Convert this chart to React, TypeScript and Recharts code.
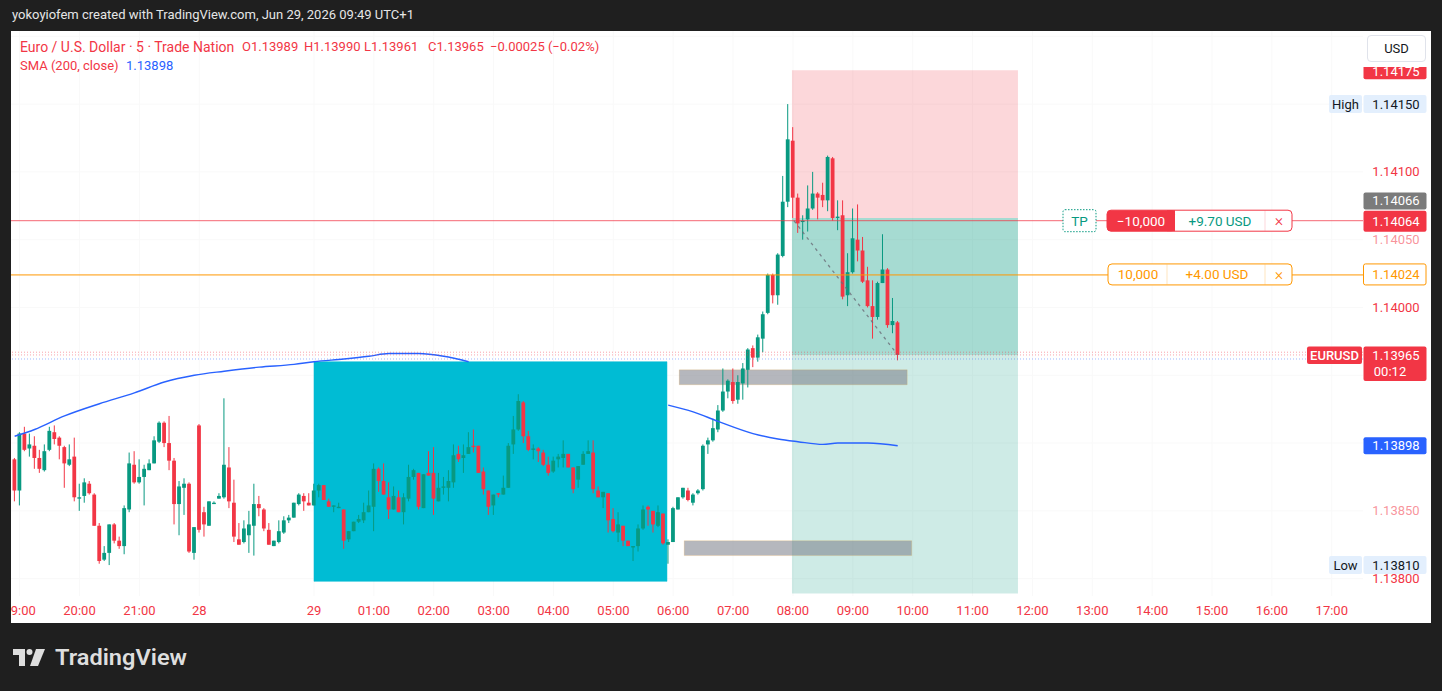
import React from "react";
import {
  ComposedChart,
  Bar,
  Line,
  XAxis,
  YAxis,
  ReferenceArea,
  ReferenceLine,
  CartesianGrid,
} from "recharts";

const FONT = "Roboto, 'Noto Sans', Arial, sans-serif";
const UP = "#089981";
const DOWN = "#f23645";
const ORANGE = "#ff9800";
const BLUE = "#2962ff";

// ---- candle data (5-minute EURUSD), first bar index relative to 29 Jun 00:00 ----
const FIRST_INDEX = -60;

const opens = [
  1.13888, 1.13865, 1.13907, 1.13896, 1.13898, 1.13889, 1.1388, 1.13895, 1.13908, 1.13904,
  1.13897, 1.13884, 1.1389, 1.13859, 1.13861, 1.1387, 1.13862, 1.13839, 1.13814, 1.13819,
  1.1384, 1.13828, 1.13824, 1.13851, 1.13884, 1.13871, 1.13875, 1.1388, 1.13885, 1.13901,
  1.13915, 1.139, 1.13887, 1.13855, 1.13867, 1.1387, 1.13819, 1.13913, 1.13849, 1.13839,
  1.13855, 1.13859, 1.1386, 1.13882, 1.13856, 1.13829, 1.13827, 1.13832, 1.13839, 1.13855,
  1.13851, 1.13836, 1.13824, 1.13827, 1.13834, 1.13843, 1.13845, 1.13855, 1.13861, 1.13856,
  1.13854, 1.13865, 1.13869, 1.13857, 1.13853, 1.13852, 1.13851, 1.13829, 1.13835, 1.13842,
  1.13843, 1.13849, 1.13853, 1.13881, 1.13872, 1.1386, 1.13851, 1.1386, 1.13849, 1.13859,
  1.13875, 1.13878, 1.13852, 1.13878, 1.13878, 1.13857, 1.13867, 1.13867, 1.13871, 1.13892,
  1.13889, 1.13892, 1.13898, 1.13898, 1.13879, 1.13865, 1.13854, 1.13863, 1.13862, 1.13867,
  1.13899, 1.1391, 1.1393, 1.13905, 1.13895, 1.13896, 1.13893, 1.13884, 1.13879, 1.13888,
  1.13889, 1.13892, 1.13882, 1.13873, 1.13884, 1.13892, 1.13893, 1.13865, 1.1386, 1.13863,
  1.13844, 1.13834, 1.13839, 1.13828, 1.13823, 1.13824, 1.13837, 1.13853, 1.1385, 1.13839,
  1.13848, 1.13825, 1.13827, 1.13851, 1.1386, 1.13865, 1.13856, 1.13863, 1.13866, 1.13899,
  1.13902, 1.1391, 1.13924, 1.13938, 1.13945, 1.13932, 1.13944, 1.13954, 1.1397, 1.13963,
  1.13977, 1.13996, 1.14024, 1.14009, 1.14038, 1.14078, 1.14123, 1.14081, 1.14063, 1.14065,
  1.14073, 1.14084, 1.14083, 1.14079, 1.1411, 1.14066, 1.14068, 1.14009, 1.14026, 1.1405,
  1.14042, 1.1402, 1.14001, 1.13993, 1.14018, 1.14028, 1.13987, 1.13989,
];

const highs = [
  1.13889, 1.13908, 1.13912, 1.13907, 1.13905, 1.13895, 1.13899, 1.13912, 1.13913, 1.13905,
  1.13898, 1.13899, 1.13904, 1.1387, 1.13874, 1.13872, 1.13863, 1.13841, 1.13824, 1.1384,
  1.13841, 1.13831, 1.13854, 1.13893, 1.13894, 1.13888, 1.13884, 1.13888, 1.13905, 1.13916,
  1.13916, 1.1392, 1.13889, 1.13872, 1.13874, 1.13871, 1.13838, 1.13914, 1.13853, 1.13857,
  1.13857, 1.13863, 1.13933, 1.13897, 1.13873, 1.13841, 1.13843, 1.1385, 1.1387, 1.13861,
  1.13852, 1.13841, 1.13828, 1.13843, 1.13846, 1.13847, 1.13856, 1.13863, 1.13863, 1.13863,
  1.1387, 1.1387, 1.13869, 1.13859, 1.13854, 1.13856, 1.13851, 1.13835, 1.13842, 1.13847,
  1.13856, 1.13865, 1.13885, 1.13882, 1.13885, 1.13871, 1.13868, 1.13865, 1.13863, 1.13884,
  1.13881, 1.13878, 1.13877, 1.13894, 1.13897, 1.13878, 1.13875, 1.1388, 1.13899, 1.13898,
  1.13899, 1.13908, 1.1391, 1.13898, 1.13882, 1.13865, 1.13862, 1.13863, 1.13876, 1.139,
  1.1392, 1.13936, 1.13931, 1.13909, 1.13899, 1.13897, 1.13895, 1.1389, 1.1389, 1.13892,
  1.13902, 1.13892, 1.13882, 1.13883, 1.13894, 1.13902, 1.13902, 1.13868, 1.13864, 1.13863,
  1.13852, 1.13849, 1.13839, 1.13828, 1.13824, 1.1384, 1.13854, 1.13854, 1.1385, 1.13854,
  1.13848, 1.13829, 1.13853, 1.1386, 1.13867, 1.13867, 1.13863, 1.13866, 1.13899, 1.13904,
  1.13918, 1.13928, 1.13955, 1.13947, 1.13955, 1.1395, 1.13959, 1.1397, 1.13972, 1.1398,
  1.13997, 1.14025, 1.14025, 1.1404, 1.14097, 1.1415, 1.14133, 1.14084, 1.14068, 1.1409,
  1.141, 1.14085, 1.14092, 1.14112, 1.14111, 1.14079, 1.14079, 1.1404, 1.14073, 1.14076,
  1.14052, 1.1403, 1.1402, 1.14019, 1.14054, 1.14029, 1.14007, 1.1399,
];

const lows = [
  1.13857, 1.13854, 1.13894, 1.1389, 1.13881, 1.13878, 1.13879, 1.13894, 1.13899, 1.13888,
  1.13867, 1.13883, 1.13857, 1.1385, 1.13856, 1.13862, 1.13839, 1.13811, 1.13813, 1.1381,
  1.13826, 1.13822, 1.13818, 1.13849, 1.1387, 1.1387, 1.13854, 1.1388, 1.13885, 1.139,
  1.13897, 1.1388, 1.1384, 1.13832, 1.13847, 1.13819, 1.13814, 1.13834, 1.13831, 1.13839,
  1.13855, 1.13859, 1.13859, 1.13852, 1.13827, 1.13825, 1.13826, 1.13819, 1.13817, 1.13846,
  1.13835, 1.13825, 1.13824, 1.13826, 1.13833, 1.13841, 1.13845, 1.13854, 1.1385, 1.13854,
  1.13854, 1.1386, 1.13858, 1.13853, 1.13849, 1.13852, 1.13822, 1.13827, 1.13835, 1.13841,
  1.13841, 1.13849, 1.13835, 1.13864, 1.13862, 1.13844, 1.13851, 1.13849, 1.1384, 1.13857,
  1.13873, 1.13851, 1.13852, 1.13876, 1.13847, 1.13857, 1.13862, 1.13857, 1.13867, 1.13886,
  1.13878, 1.13892, 1.13893, 1.13878, 1.13862, 1.13847, 1.13847, 1.1386, 1.13862, 1.13867,
  1.13892, 1.13909, 1.139, 1.13894, 1.13888, 1.13886, 1.13883, 1.13876, 1.13878, 1.13882,
  1.13882, 1.13882, 1.13863, 1.13867, 1.13884, 1.13892, 1.13863, 1.1386, 1.13852, 1.13834,
  1.13834, 1.13827, 1.13824, 1.13824, 1.13813, 1.1382, 1.13836, 1.13839, 1.13834, 1.13838,
  1.13825, 1.13811, 1.13827, 1.13851, 1.13859, 1.13857, 1.13854, 1.13862, 1.13865, 1.13892,
  1.13901, 1.13908, 1.13923, 1.13933, 1.13929, 1.13929, 1.13932, 1.13941, 1.13956, 1.1396,
  1.13967, 1.13995, 1.14003, 1.14002, 1.14037, 1.14074, 1.14066, 1.14055, 1.1405, 1.14056,
  1.14072, 1.14065, 1.14074, 1.14071, 1.14064, 1.14057, 1.14006, 1.14001, 1.14025, 1.14034,
  1.14018, 1.14, 1.13977, 1.13991, 1.14018, 1.13985, 1.13981, 1.13961,
];

const closes = [
  1.13865, 1.13907, 1.13895, 1.13899, 1.13889, 1.13881, 1.13894, 1.13909, 1.13903, 1.13898,
  1.13885, 1.13888, 1.1386, 1.1386, 1.13871, 1.13863, 1.13839, 1.13813, 1.13819, 1.1384,
  1.13828, 1.13824, 1.13852, 1.13885, 1.13871, 1.13875, 1.13881, 1.13885, 1.13902, 1.13915,
  1.139, 1.13887, 1.13855, 1.13868, 1.1387, 1.1382, 1.13838, 1.13836, 1.1384, 1.13857,
  1.13856, 1.13861, 1.13884, 1.13857, 1.13831, 1.13825, 1.13837, 1.1384, 1.13855, 1.13852,
  1.13837, 1.13825, 1.13828, 1.13835, 1.13843, 1.13845, 1.13856, 1.13862, 1.13857, 1.13854,
  1.13865, 1.13869, 1.13858, 1.13853, 1.13854, 1.13853, 1.13828, 1.13835, 1.13842, 1.13844,
  1.13849, 1.13854, 1.13881, 1.13872, 1.13862, 1.13851, 1.13861, 1.13849, 1.1386, 1.13875,
  1.1388, 1.13853, 1.13877, 1.13876, 1.13859, 1.13867, 1.13868, 1.13872, 1.13891, 1.13888,
  1.13891, 1.13897, 1.13897, 1.13878, 1.13866, 1.13853, 1.13862, 1.13862, 1.13867, 1.13898,
  1.1391, 1.13931, 1.13905, 1.13895, 1.13896, 1.13894, 1.13884, 1.13878, 1.13887, 1.1389,
  1.13892, 1.13882, 1.13866, 1.13883, 1.13892, 1.13894, 1.13866, 1.1386, 1.13864, 1.13843,
  1.13835, 1.1384, 1.13828, 1.13824, 1.13824, 1.13837, 1.13851, 1.13851, 1.1384, 1.13849,
  1.13826, 1.13827, 1.13852, 1.1386, 1.13867, 1.13858, 1.13862, 1.13865, 1.13898, 1.13902,
  1.13911, 1.13924, 1.13938, 1.13946, 1.13931, 1.13945, 1.13955, 1.13969, 1.13963, 1.13978,
  1.13995, 1.14024, 1.14009, 1.14039, 1.14078, 1.14124, 1.14081, 1.14062, 1.14064, 1.14073,
  1.14084, 1.14081, 1.14079, 1.14111, 1.14066, 1.14067, 1.14008, 1.14026, 1.14051, 1.14042,
  1.14019, 1.14001, 1.13993, 1.14018, 1.14028, 1.13987, 1.1399, 1.13965,
];

// ---- SMA(200) readings: visible part left of the box and right of it ----
const smaLeftIdx = [-60, -56, -50, -43, -36, -30, -24, -18, -11, -4, 0, 6, 11, 15, 21, 26, 31];
const smaLeftVal = [
  1.13905, 1.1391, 1.1392, 1.13929, 1.13937, 1.13945, 1.1395, 1.13953, 1.13956, 1.13958,
  1.1396, 1.13962, 1.13964, 1.13966, 1.13966, 1.13964, 1.1396,
];
const smaRightIdx = [71, 76, 81, 88, 93, 97, 102, 105, 111, 117];
const smaRightVal = [1.13928, 1.13923, 1.13916, 1.13907, 1.13903, 1.13901, 1.13899, 1.139, 1.139, 1.13898];

// ---- time axis ----
const timeTickIdx = [-59, -47, -35, -23, 0, 12, 24, 36, 48, 60, 72, 84, 96, 108, 120, 132, 144, 156, 168, 180, 192, 204];
const timeTickLabels = [
  "19:00", "20:00", "21:00", "28", "29", "01:00", "02:00", "03:00", "04:00", "05:00", "06:00",
  "07:00", "08:00", "09:00", "10:00", "11:00", "12:00", "13:00", "14:00", "15:00", "16:00", "17:00",
];

// ---- price levels ----
const gridPrices = [1.138, 1.1385, 1.139, 1.1395, 1.14, 1.1405, 1.141, 1.1415, 1.142];
const plainAxisPrices = [1.138, 1.14, 1.141];
const fadedAxisPrices = [1.1385, 1.1405];
const stopLevel = 1.14175;
const entryLevel = 1.14066;
const targetLevel = 1.13789;
const tpLevel = 1.14064;
const limitLevel = 1.14024;
const askLevel = 1.13967;
const bidLevel = 1.13962;
const tpTexts = ["TP", "\u221210,000", "+9.70 USD"];
const limitTexts = ["10,000", "+4.00 USD"];

// drawings (time index / price)
const rangeBox = { x1: 0, x2: 70.75, y1: 1.13798, y2: 1.1396 };
const position = { x1: 95.8, x2: 141.1 };
const greyUpper = { x1: 73.2, x2: 118.9, y1: 1.13943, y2: 1.13954 };
const greyLower = { x1: 74.2, x2: 119.8, y1: 1.13817, y2: 1.13828 };
const diagStart = { x: 96.2, y: 1.14064 };

const X_DOMAIN: [number, number] = [-60.73, 210.26];
const Y_DOMAIN: [number, number] = [1.137872, 1.142039];

const rows = opens.map((o, k) => ({
  i: FIRST_INDEX + k,
  open: o,
  high: highs[k],
  low: lows[k],
  close: closes[k],
  smaA: null as number | null,
  smaB: null as number | null,
}));
smaLeftIdx.forEach((idx, j) => {
  const r = rows[idx - FIRST_INDEX];
  if (r) r.smaA = smaLeftVal[j];
});
smaRightIdx.forEach((idx, j) => {
  const r = rows[idx - FIRST_INDEX];
  if (r) r.smaB = smaRightVal[j];
});

const last = rows.length - 1;
const lastClose = closes[last];
const prevClose = closes[last - 1];
const change = lastClose - prevClose;
const changePct = (change / prevClose) * 100;
const sessionHigh = Math.max(...highs);
const sessionLow = Math.min(...lows);
const smaLast = smaRightVal[smaRightVal.length - 1];
const f5 = (v: number) => v.toFixed(5);
const signed = (v: number, d: number) => (v < 0 ? "\u2212" : "+") + Math.abs(v).toFixed(d);

function Candle(props: any) {
  const { x, y, width, height, payload } = props;
  if (!payload || x == null || y == null) return null;
  const top = Math.min(y, y + height);
  const bot = Math.max(y, y + height);
  const { open, close, high, low } = payload;
  const span = high - low;
  const py = (p: number) => (span > 0 ? top + ((high - p) / span) * (bot - top) : top);
  const cx = x + width / 2;
  const color = close >= open ? UP : DOWN;
  const bTop = py(Math.max(open, close));
  const bBot = py(Math.min(open, close));
  return (
    <g>
      <line x1={cx} x2={cx} y1={top} y2={bot} stroke={color} strokeWidth={1} />
      <rect x={cx - 1.9} y={bTop} width={3.8} height={Math.max(1, bBot - bTop)} fill={color} />
    </g>
  );
}

function TimeTick(props: any) {
  const { x, y, payload } = props;
  const k = timeTickIdx.indexOf(payload.value);
  if (k < 0) return null;
  return (
    <text x={x} y={y + 14} textAnchor="middle" dominantBaseline="central" fill={DOWN} fontSize={13} fontFamily={FONT}>
      {timeTickLabels[k]}
    </text>
  );
}

function PriceTick(props: any) {
  const { x, y, payload } = props;
  const v: number = payload.value;
  const is = (a: number) => Math.abs(v - a) < 1e-7;
  const tx = x + 33;
  const T = (s: string, cx: number, cy: number, fill: string, size = 13, weight = 400, op = 1) => (
    <text x={cx} y={cy} textAnchor="middle" dominantBaseline="central" fill={fill} fillOpacity={op} fontSize={size} fontWeight={weight} fontFamily={FONT}>
      {s}
    </text>
  );
  if (plainAxisPrices.some((a) => Math.abs(a - v) < 1e-7)) return T(f5(v), tx, y, DOWN);
  if (fadedAxisPrices.some((a) => Math.abs(a - v) < 1e-7)) return T(f5(v), tx, y, DOWN, 13, 400, 0.55);
  if (is(stopLevel))
    return (
      <g>
        <rect x={x + 0.5} y={y - 8.5} width={63} height={17.5} rx={2} fill={DOWN} />
        {T(f5(v), tx, y + 1, "#fff")}
      </g>
    );
  if (is(sessionHigh) || is(sessionLow)) {
    const label = is(sessionHigh) ? "High" : "Low";
    return (
      <g>
        <rect x={x - 34} y={y - 9} width={33} height={18} rx={2} fill="#e3effd" />
        {T(label, x - 17.5, y, "#131722")}
        <rect x={x + 0.5} y={y - 9} width={63} height={18} rx={2} fill="#e3effd" />
        {T(f5(v), tx, y, "#131722")}
      </g>
    );
  }
  if (is(entryLevel))
    return (
      <g>
        <rect x={x + 0.5} y={y - 25.5} width={63} height={17} rx={2} fill="#7b7b7b" />
        {T(f5(v), tx, y - 17, "#fff")}
      </g>
    );
  if (is(tpLevel)) {
    const L = x - 256;
    return (
      <g>
        <rect x={x - 300} y={y - 11} width={33} height={22} rx={2} fill="#fff" stroke={UP} strokeDasharray="1.5 1.5" />
        {T(tpTexts[0], x - 283.5, y, UP, 13.5)}
        <rect x={L} y={y - 10.5} width={185} height={21} rx={4} fill="#fff" stroke={DOWN} />
        <rect x={L} y={y - 10.5} width={68} height={21} rx={4} fill={DOWN} />
        <rect x={L + 60} y={y - 10.5} width={8} height={21} fill={DOWN} />
        {T(tpTexts[1], L + 34, y, "#fff", 13.5)}
        {T(tpTexts[2], L + 113, y, UP, 13.5)}
        <line x1={x - 98} x2={x - 98} y1={y - 10} y2={y + 10} stroke={DOWN} strokeOpacity={0.2} />
        {T("\u00d7", x - 84, y, DOWN, 16, 300)}
        <rect x={x + 0.5} y={y - 10} width={63} height={21} rx={2} fill={DOWN} />
        {T(f5(v), tx, y + 0.5, "#fff")}
      </g>
    );
  }
  if (is(limitLevel)) {
    const L = x - 255;
    return (
      <g>
        <rect x={L} y={y - 11} width={184} height={21} rx={4} fill="#fff" stroke={ORANGE} />
        {T(limitTexts[0], L + 30, y - 0.5, ORANGE, 13.5)}
        <line x1={x - 196} x2={x - 196} y1={y - 10.5} y2={y + 9.5} stroke={ORANGE} strokeOpacity={0.25} />
        {T(limitTexts[1], L + 109, y - 0.5, ORANGE, 13.5)}
        <line x1={x - 98} x2={x - 98} y1={y - 10.5} y2={y + 9.5} stroke={ORANGE} strokeOpacity={0.25} />
        {T("\u00d7", x - 84, y - 0.5, ORANGE, 16, 300)}
        <rect x={x + 0.5} y={y - 11} width={62.5} height={21} rx={2} fill="#fff" stroke={ORANGE} />
        {T(f5(v), tx, y - 0.5, ORANGE)}
      </g>
    );
  }
  if (is(lastClose))
    return (
      <g>
        <rect x={x - 56} y={y - 8.5} width={55} height={17.5} rx={2} fill={DOWN} />
        {T("EURUSD", x - 28.5, y + 0.5, "#fff", 13, 500)}
        <rect x={x + 0.5} y={y - 8.5} width={63} height={34.5} rx={2} fill={DOWN} />
        {T(f5(v), tx, y + 0.5, "#fff")}
        {T("00:12", tx - 6, y + 17, "#fff")}
      </g>
    );
  if (is(smaLast))
    return (
      <g>
        <rect x={x + 0.5} y={y - 8.5} width={63} height={17} rx={2} fill={BLUE} />
        {T(f5(v), tx, y, "#fff")}
      </g>
    );
  return null;
}

const axisTicks = [
  1.138, sessionLow, 1.1385, smaLast, lastClose, 1.14, limitLevel, 1.1405, tpLevel, entryLevel, 1.141, sessionHigh, stopLevel,
];

export default function App() {
  return (
    <div
      style={{
        position: "fixed",
        left: 0,
        top: 0,
        width: 1442,
        height: 691,
        background: "#1f1f1f",
        overflow: "hidden",
        fontFamily: FONT,
      }}
    >
      <div style={{ position: "absolute", left: 12, top: 6, fontSize: 13, lineHeight: "18px", color: "#e6e6e6", whiteSpace: "pre" }}>
        yokoyiofem created with TradingView.com, Jun 29, 2026 09:49 UTC+1
      </div>

      <div style={{ position: "absolute", left: 11, top: 31, width: 1420, height: 592, background: "#ffffff", overflow: "hidden" }}>
        <ComposedChart width={1420} height={592} data={rows} margin={{ top: 0, right: 0, bottom: 0, left: 0 }}>
          <CartesianGrid stroke="#f9f9f9" horizontalValues={gridPrices} verticalValues={timeTickIdx} />
          <XAxis
            dataKey="i"
            type="number"
            domain={X_DOMAIN}
            allowDataOverflow
            ticks={timeTickIdx}
            interval={0}
            height={27}
            tickLine={false}
            axisLine={false}
            tickSize={0}
            tickMargin={0}
            tick={<TimeTick />}
          />
          <YAxis
            orientation="right"
            type="number"
            domain={Y_DOMAIN}
            allowDataOverflow
            ticks={axisTicks}
            interval={0}
            width={68}
            tickLine={false}
            axisLine={false}
            tickSize={0}
            tickMargin={0}
            tick={<PriceTick />}
          />

          <ReferenceArea x1={rangeBox.x1} x2={rangeBox.x2} y1={rangeBox.y1} y2={rangeBox.y2} fill="#00bcd4" fillOpacity={1} stroke="#00bcd4" strokeOpacity={0.5} />
          <ReferenceArea x1={position.x1} x2={position.x2} y1={entryLevel} y2={stopLevel} fill={DOWN} fillOpacity={0.2} stroke="none" />
          <ReferenceArea x1={position.x1} x2={position.x2} y1={targetLevel} y2={entryLevel} fill={UP} fillOpacity={0.2} stroke="none" />
          <ReferenceArea x1={position.x1} x2={position.x2} y1={lastClose} y2={entryLevel} fill={UP} fillOpacity={0.2} stroke="none" />
          <ReferenceArea x1={greyUpper.x1} x2={greyUpper.x2} y1={greyUpper.y1} y2={greyUpper.y2} fill="#787b86" fillOpacity={0.55} stroke={ORANGE} strokeOpacity={0.15} />
          <ReferenceArea x1={greyLower.x1} x2={greyLower.x2} y1={greyLower.y1} y2={greyLower.y2} fill="#787b86" fillOpacity={0.55} stroke={ORANGE} strokeOpacity={0.15} />

          <Bar dataKey={(d: any) => [d.low, d.high]} barSize={5} shape={<Candle />} isAnimationActive={false} />

          <Line type="monotone" dataKey="smaA" stroke={BLUE} strokeWidth={1.4} dot={false} connectNulls isAnimationActive={false} />
          <Line type="monotone" dataKey="smaB" stroke={BLUE} strokeWidth={1.4} dot={false} connectNulls isAnimationActive={false} />

          <ReferenceLine y={askLevel} stroke={DOWN} strokeOpacity={0.45} strokeDasharray="1 2" />
          <ReferenceLine y={lastClose} stroke={DOWN} strokeOpacity={0.45} strokeDasharray="1 2" />
          <ReferenceLine y={bidLevel} stroke={BLUE} strokeOpacity={0.45} strokeDasharray="1 2" />
          <ReferenceLine y={tpLevel} stroke={DOWN} strokeOpacity={0.75} />
          <ReferenceLine y={limitLevel} stroke={ORANGE} />
          <ReferenceLine
            segment={[diagStart, { x: rows[last].i, y: lastClose }]}
            stroke="#6a6d78"
            strokeOpacity={0.8}
            strokeWidth={1.3}
            strokeDasharray="3 4"
          />
        </ComposedChart>
      </div>

      {/* legend */}
      <div style={{ position: "absolute", top: 38, left: 0, fontSize: 13, lineHeight: "18px", color: DOWN, whiteSpace: "pre" }}>
        <span style={{ position: "absolute", left: 20, fontSize: 14 }}>Euro / U.S. Dollar · 5 · Trade Nation</span>
        <span style={{ position: "absolute", left: 242 }}>{"O" + f5(opens[last])}</span>
        <span style={{ position: "absolute", left: 304 }}>{"H" + f5(highs[last])}</span>
        <span style={{ position: "absolute", left: 364 }}>{"L" + f5(lows[last])}</span>
        <span style={{ position: "absolute", left: 428 }}>{"C" + f5(closes[last])}</span>
        <span style={{ position: "absolute", left: 490 }}>{signed(change, 5) + " (" + signed(changePct, 2) + "%)"}</span>
      </div>
      <div style={{ position: "absolute", top: 57, left: 0, fontSize: 13, lineHeight: "18px", whiteSpace: "pre" }}>
        <span style={{ position: "absolute", left: 20, color: DOWN }}>SMA (200, close)</span>
        <span style={{ position: "absolute", left: 126, color: BLUE }}>{f5(smaLast)}</span>
      </div>

      {/* currency box */}
      <div style={{ position: "absolute", left: 1363, top: 31, width: 68, height: 36, background: "#fff" }} />
      <div
        style={{
          position: "absolute",
          left: 1367,
          top: 35,
          width: 57,
          height: 25,
          border: "1px solid #e0e3eb",
          borderRadius: 4,
          background: "#fff",
          color: "#131722",
          fontSize: 13,
          lineHeight: "25px",
          textAlign: "center",
        }}
      >
        USD
      </div>

      {/* TradingView logo */}
      <svg style={{ position: "absolute", left: 0, top: 640 }} width={220} height={40}>
        <g fill="#dedede">
          <path d="M13 9 H25 V26 H19 V15 H13 Z" />
          <circle cx={29.5} cy={12} r={3} />
          <path d="M36 9 H45 L38 26 H30 Z" />
        </g>
        <text x={55} y={25} fontSize={22.5} fontWeight={600} fill="#dedede" fontFamily={FONT} textLength={132} lengthAdjust="spacingAndGlyphs">
          TradingView
        </text>
      </svg>
    </div>
  );
}
